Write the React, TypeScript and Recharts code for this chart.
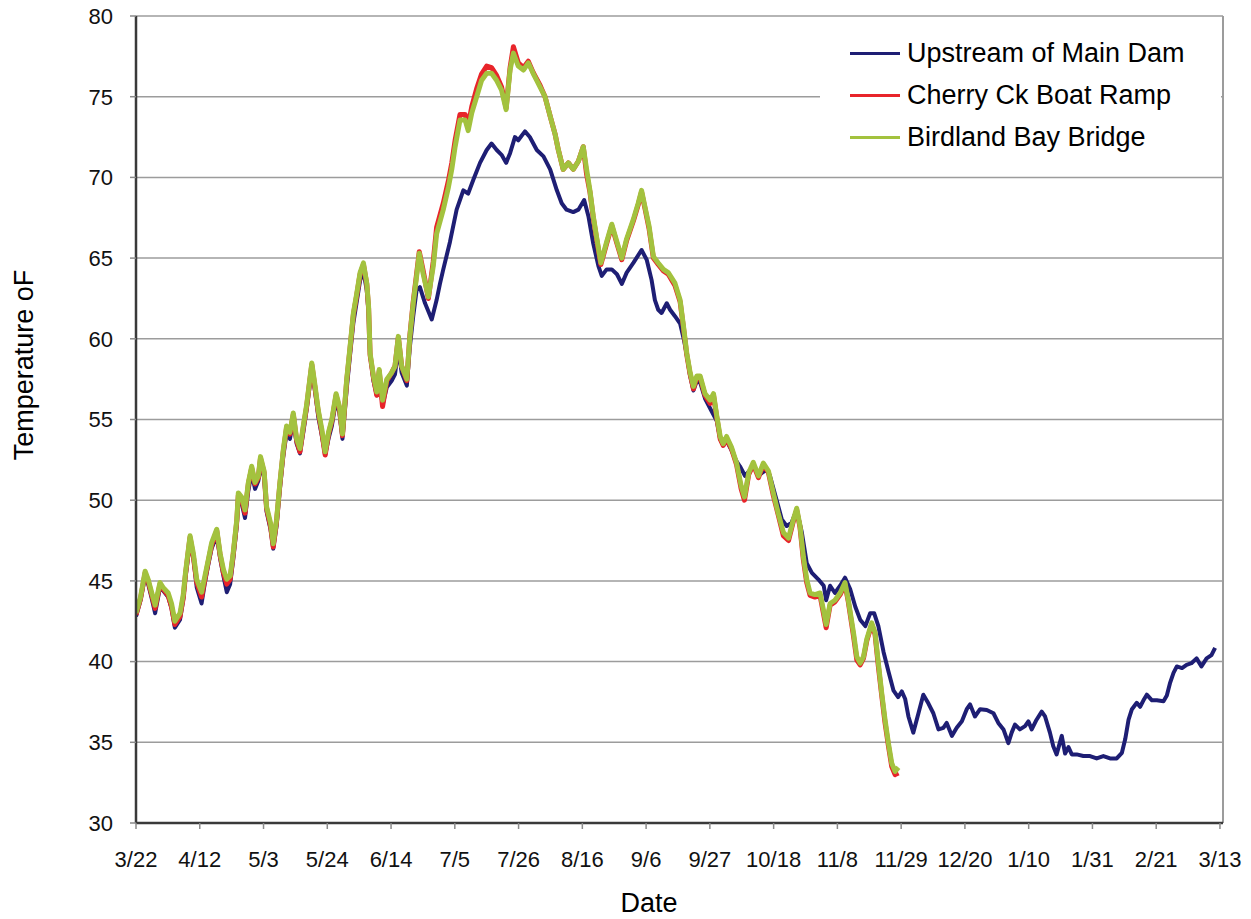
import React from 'react';
import { LineChart, Line, XAxis, YAxis, CartesianGrid, Legend, ReferenceLine, Label } from 'recharts';

const tickDays = [0, 21, 42, 63, 84, 105, 126, 147, 168, 189, 210, 231, 252, 273, 294, 315, 336, 357];
const tickLabels = ['3/22', '4/12', '5/3', '5/24', '6/14', '7/5', '7/26', '8/16', '9/6', '9/27', '10/18', '11/8', '11/29', '12/20', '1/10', '1/31', '2/21', '3/13'];
const yTicks = [30, 35, 40, 45, 50, 55, 60, 65, 70, 75, 80];

const seriesNames = ['Upstream of Main Dam', 'Cherry Ck Boat Ramp', 'Birdland Bay Bridge'];
const seriesColors = ['#1e1e74', '#e8242a', '#a3c23e'];

// [day since 3/22, temperature °F]
const upstream: [number, number][] = [
  [0, 42.8], [1.5, 43.8], [3, 45.3], [4, 44.8], [5.2, 43.9], [6.3, 43.0], [7.9, 44.6], [8.9, 44.4], [10.6, 44.0], [11.7, 43.3],
  [12.8, 42.1], [14.5, 42.6], [15.6, 43.9], [16.3, 45.2], [17.8, 47.4], [18.9, 46.4], [20, 44.6], [21.6, 43.6], [22.7, 44.9], [23.8, 46.0],
  [24.9, 47.0], [26.6, 47.8], [27.7, 46.4], [28.8, 45.3], [29.9, 44.3], [31, 44.8], [32, 46.3], [33.2, 48.4], [33.7, 50.1], [34.8, 49.8],
  [35.9, 48.9], [37, 50.6], [38.1, 51.7], [39.2, 50.7], [40.3, 51.2], [41, 52.2], [42.2, 51.4], [43, 49.3], [44.3, 48.2], [45.2, 47.0],
  [46.3, 48.4], [47.4, 50.7], [48.5, 52.7], [49.6, 54.2], [50.7, 53.8], [51.8, 55.0], [52.9, 53.5], [54, 52.9], [55.1, 54.2], [56.2, 55.6],
  [57.9, 58.1], [59, 56.7], [60, 55.2], [61.2, 54.0], [62.3, 52.8], [63.4, 53.8], [64.5, 54.6], [65.9, 56.2], [67, 55.4], [68, 53.8],
  [69.4, 56.9], [70.5, 59.0], [71.6, 61.0], [72.7, 62.3], [73.8, 63.6], [74.9, 64.2], [76, 63.0], [76.6, 61.6], [77.1, 59.0], [78.2, 57.4],
  [79.3, 56.5], [80.1, 57.6], [81.2, 55.9], [82.6, 57.0], [84.2, 57.4], [85.3, 57.8], [86.4, 59.4], [87.5, 57.9], [89.2, 57.1], [90.2, 59.5],
  [91.3, 61.4], [92.4, 63.0], [93.5, 63.2], [95.2, 62.2], [97.4, 61.2], [99, 62.4], [100.1, 63.4], [101.2, 64.3], [103.4, 66.0], [105.6, 68.0],
  [107.8, 69.2], [109.4, 69.0], [111.1, 69.85], [113.3, 70.9], [115.5, 71.7], [117.1, 72.1], [118.8, 71.7], [120.4, 71.4], [121.9, 70.9], [123.2, 71.5],
  [124.8, 72.5], [125.9, 72.3], [128.1, 72.85], [129.7, 72.5], [132, 71.7], [134.2, 71.3], [136.4, 70.5], [138.6, 69.2], [140.2, 68.4], [141.8, 68.0],
  [144, 67.85], [145.7, 68.0], [147.6, 68.6], [149, 67.6], [150.6, 65.9], [152.3, 64.5], [153.4, 63.9], [155, 64.3], [156.7, 64.3], [158.4, 64.0],
  [160, 63.4], [161.6, 64.1], [163.8, 64.7], [166.5, 65.5], [168.2, 64.9], [169.8, 63.65], [170.9, 62.4], [172, 61.8], [173.1, 61.6], [174.8, 62.2],
  [175.9, 61.8], [177.5, 61.4], [179.2, 60.95], [180.5, 59.9], [181.4, 59.0], [182.5, 57.7], [183.6, 56.8], [184.7, 57.4], [185.8, 57.3], [187.4, 56.3],
  [189.6, 55.5], [191.3, 54.9], [192.4, 53.8], [193.4, 53.4], [194.5, 53.7], [196.1, 53.1], [197.8, 52.4], [198.9, 52.1], [200.6, 51.5], [203.2, 52.1],
  [205.5, 51.6], [207.7, 51.9], [208.8, 51.5], [211, 50.0], [212.7, 48.8], [214.3, 48.4], [215.9, 48.6], [217.6, 49.4], [219.3, 48.0], [220.9, 46.1],
  [222.6, 45.5], [224.7, 45.1], [226.5, 44.7], [227.3, 43.8], [228.6, 44.7], [230.2, 44.25], [231.9, 44.7], [233.5, 45.2], [235.2, 44.5], [236.9, 43.4],
  [238.5, 42.6], [240.2, 42.2], [241.8, 43.0], [243.1, 43.0], [244.5, 42.2], [246.2, 40.6], [247.8, 39.4], [249.5, 38.2], [251, 37.8], [252.2, 38.15],
  [253.3, 37.7], [254.4, 36.6], [256, 35.6], [257.7, 36.8], [259.3, 37.95], [261, 37.4], [262.6, 36.8], [264.3, 35.8], [265.9, 35.9], [267, 36.2],
  [268.7, 35.4], [270.3, 35.9], [272, 36.3], [273.6, 37.05], [274.7, 37.35], [276.3, 36.6], [278, 37.05], [280.2, 37.0], [282.4, 36.8], [284, 36.2],
  [285.7, 35.8], [287.3, 34.95], [288.4, 35.6], [289.5, 36.1], [291.1, 35.8], [292.8, 36.0], [293.9, 36.3], [295, 35.8], [296.6, 36.4], [298.3, 36.9],
  [299.4, 36.6], [301, 35.6], [302.1, 34.75], [303.2, 34.25], [304.9, 35.4], [306, 34.3], [307.1, 34.7], [308.2, 34.25], [309.8, 34.25], [312, 34.15],
  [314.2, 34.15], [316.4, 34.0], [318.6, 34.15], [320.8, 34.0], [323, 34.0], [324.7, 34.35], [325.8, 35.2], [326.9, 36.4], [328, 37.05], [329.6, 37.45],
  [330.7, 37.2], [331.8, 37.6], [332.9, 37.95], [334.6, 37.6], [336.2, 37.6], [338.4, 37.55], [339.5, 37.9], [340.6, 38.7], [341.7, 39.3], [342.8, 39.7],
  [344.5, 39.6], [346, 39.8], [347.6, 39.9], [349.3, 40.2], [350.9, 39.7], [352.6, 40.2], [354.2, 40.4], [355.4, 40.85],
];

const cherry: [number, number][] = [
  [0, 42.9], [1.5, 43.9], [3, 45.5], [4, 45.0], [5.2, 44.1], [6.3, 43.3], [7.9, 44.8], [8.9, 44.5], [10.6, 44.1], [11.7, 43.4],
  [12.8, 42.3], [14.5, 42.8], [15.6, 44.0], [16.3, 45.4], [17.8, 47.7], [18.9, 46.5], [20, 44.9], [21.6, 44.0], [22.7, 45.1], [23.8, 46.2],
  [24.9, 47.2], [26.6, 48.1], [27.7, 46.6], [28.8, 45.5], [29.9, 44.8], [31, 45.1], [32, 46.6], [33.2, 48.7], [33.7, 50.3], [34.8, 50.1],
  [35.9, 49.2], [37, 51.0], [38.1, 52.0], [39.2, 51.0], [40.3, 51.4], [41, 52.6], [42.2, 51.7], [43, 49.5], [44.3, 48.4], [45.2, 47.1],
  [46.3, 48.7], [47.4, 51.0], [48.5, 53.0], [49.6, 54.5], [50.7, 54.1], [51.8, 55.3], [52.9, 53.7], [54, 53.0], [55.1, 54.5], [56.2, 55.8],
  [57.9, 58.4], [59, 56.9], [60, 55.5], [61.2, 54.2], [62.3, 52.8], [63.4, 54.1], [64.5, 54.9], [65.9, 56.5], [67, 55.7], [68, 54.0],
  [69.4, 57.4], [70.5, 59.4], [71.6, 61.5], [72.7, 62.7], [73.8, 64.0], [74.9, 64.6], [76, 63.4], [76.6, 61.9], [77.1, 59.0], [78.2, 57.6],
  [79.3, 56.5], [80.1, 58.0], [81.2, 55.8], [82.6, 57.4], [84.2, 57.9], [85.3, 58.3], [86.4, 60.1], [87.5, 58.3], [89.2, 57.4], [90.2, 60.2],
  [91.3, 62.3], [92.4, 64.0], [93.3, 65.4], [94.6, 64.2], [96.3, 62.5], [97.9, 64.8], [99, 66.9], [101.2, 68.4], [102.9, 69.8], [104, 70.9],
  [105.1, 72.3], [106.7, 73.9], [108.4, 73.9], [109.4, 73.2], [110.6, 74.4], [112.2, 75.5], [113.8, 76.4], [115.5, 76.9], [117.1, 76.8], [118.8, 76.3],
  [120.4, 75.6], [121.9, 74.3], [123.2, 76.8], [124.3, 78.1], [125.9, 77.1], [127.6, 76.8], [129.2, 77.2], [130.8, 76.5], [133.1, 75.7], [134.7, 75.0],
  [136.4, 73.8], [138, 72.7], [139.1, 71.7], [140.7, 70.5], [142.4, 70.9], [144, 70.5], [145.7, 71.0], [147.3, 71.9], [148.4, 70.2], [149.5, 69.1],
  [150.6, 67.5], [151.7, 66.2], [153.1, 64.6], [155, 65.9], [156.7, 67.0], [158.4, 65.9], [160, 64.9], [161.6, 66.1], [163.8, 67.3], [165.4, 68.3],
  [166.5, 69.1], [167.6, 68.1], [169, 66.8], [170.4, 65.0], [172, 64.6], [173.7, 64.2], [175.3, 64.0], [177.5, 63.3], [179.2, 62.3], [180.3, 60.7],
  [181.4, 59.0], [182.5, 57.8], [183.6, 56.9], [184.7, 57.6], [185.8, 57.6], [187.4, 56.5], [189.1, 56.0], [190.2, 56.5], [191.3, 55.1], [192.4, 53.8],
  [193.4, 53.4], [194.5, 53.8], [196.1, 53.2], [197.8, 52.2], [199.3, 50.7], [200.4, 50.0], [201.8, 51.6], [203.3, 52.2], [205, 51.4], [206.6, 52.2],
  [208.3, 51.7], [209.9, 50.3], [211.5, 49.1], [213.2, 47.8], [214.9, 47.5], [216.5, 48.7], [217.6, 49.4], [218.7, 48.3], [219.8, 46.3], [220.9, 44.9],
  [222, 44.1], [223.6, 44.0], [225.3, 44.1], [226.4, 43.0], [227.3, 42.1], [228.6, 43.5], [230.2, 43.7], [231.9, 44.15], [233.5, 44.8], [234.6, 43.7],
  [236.3, 41.6], [237.4, 40.1], [238.5, 39.8], [239.6, 40.2], [240.7, 41.3], [242.3, 42.3], [243.4, 41.7], [244.5, 39.7], [245.6, 37.9], [246.7, 36.2],
  [247.8, 34.8], [248.9, 33.5], [250, 33.0], [251.1, 33.1],
];

const birdland: [number, number][] = [
  [0, 43.0], [1.5, 44.0], [3, 45.6], [4, 45.1], [5.2, 44.25], [6.3, 43.5], [7.9, 44.9], [8.9, 44.6], [10.6, 44.25], [11.7, 43.6],
  [12.8, 42.5], [14.5, 43.0], [15.6, 44.2], [16.3, 45.5], [17.8, 47.8], [18.9, 46.7], [20, 45.1], [21.6, 44.3], [22.7, 45.3], [23.8, 46.3],
  [24.9, 47.35], [26.6, 48.2], [27.7, 46.7], [28.8, 45.7], [29.9, 45.1], [31, 45.3], [32, 46.7], [33.2, 48.8], [33.7, 50.45], [34.8, 50.2],
  [35.9, 49.4], [37, 51.1], [38.1, 52.1], [39.2, 51.1], [40.3, 51.5], [41, 52.7], [42.2, 51.8], [43, 49.6], [44.3, 48.6], [45.2, 47.3],
  [46.3, 48.8], [47.4, 51.1], [48.5, 53.1], [49.6, 54.6], [50.7, 54.2], [51.8, 55.4], [52.9, 53.8], [54, 53.2], [55.1, 54.6], [56.2, 55.9],
  [57.9, 58.5], [59, 57.05], [60, 55.6], [61.2, 54.4], [62.3, 53.0], [63.4, 54.2], [64.5, 55.0], [65.9, 56.6], [67, 55.8], [68, 54.1],
  [69.4, 57.5], [70.5, 59.5], [71.6, 61.6], [72.7, 62.8], [73.8, 64.1], [74.9, 64.7], [76, 63.45], [76.6, 62.0], [77.1, 59.1], [78.2, 57.7],
  [79.3, 56.7], [80.1, 58.1], [81.2, 56.2], [82.6, 57.5], [84.2, 57.9], [85.3, 58.3], [86.4, 60.15], [87.5, 58.3], [89.2, 57.5], [90.2, 60.15],
  [91.3, 62.2], [92.4, 63.85], [93.3, 65.3], [94.6, 64.0], [96.3, 62.6], [97.9, 64.5], [99, 66.5], [101.2, 68.0], [102.9, 69.4], [104, 70.5],
  [105.1, 71.9], [106.7, 73.55], [108.4, 73.55], [109.4, 72.9], [110.6, 74.0], [112.2, 75.0], [113.8, 76.0], [115.5, 76.45], [117.1, 76.45], [118.8, 76.0],
  [120.4, 75.4], [121.9, 74.2], [123.2, 76.65], [124.3, 77.7], [125.9, 76.9], [127.6, 76.65], [129.2, 77.1], [130.8, 76.45], [133.1, 75.6], [134.7, 75.0],
  [136.4, 73.8], [138, 72.7], [139.1, 71.7], [140.7, 70.5], [142.4, 70.9], [144, 70.5], [145.7, 71.0], [147.3, 71.9], [148.4, 70.5], [149.5, 69.2],
  [150.6, 67.6], [151.7, 66.3], [153.1, 64.7], [155, 66.0], [156.7, 67.1], [158.4, 66.0], [160, 65.0], [161.6, 66.2], [163.8, 67.4], [165.4, 68.4],
  [166.5, 69.2], [167.6, 68.2], [169, 66.95], [170.4, 65.1], [172, 64.7], [173.7, 64.3], [175.3, 64.1], [177.5, 63.45], [179.2, 62.4], [180.3, 60.8],
  [181.4, 59.1], [182.5, 57.9], [183.6, 57.05], [184.7, 57.7], [185.8, 57.7], [187.4, 56.6], [189.1, 56.2], [190.2, 56.6], [191.3, 55.2], [192.4, 53.95],
  [193.4, 53.5], [194.5, 53.95], [196.1, 53.3], [197.8, 52.3], [199.3, 50.9], [200.4, 50.2], [201.8, 51.7], [203.3, 52.35], [205, 51.5], [206.6, 52.3],
  [208.3, 51.8], [209.9, 50.45], [211.5, 49.2], [213.2, 48.0], [214.9, 47.65], [216.5, 48.8], [217.6, 49.5], [218.7, 48.4], [219.8, 46.5], [220.9, 45.1],
  [222, 44.25], [223.6, 44.15], [225.3, 44.25], [226.4, 43.2], [227.3, 42.3], [228.6, 43.6], [230.2, 43.8], [231.9, 44.25], [233.5, 44.9], [234.6, 43.8],
  [236.3, 41.8], [237.4, 40.3], [238.5, 39.9], [239.6, 40.3], [240.7, 41.4], [242.3, 42.4], [243.4, 41.8], [244.5, 39.9], [245.6, 38.05], [246.7, 36.4],
  [247.8, 34.95], [248.9, 33.7], [250, 33.2], [251.1, 33.45],
];

const toRows = (pairs: [number, number][]) => pairs.map(([day, temp]) => ({ day, temp }));
const seriesData = [toRows(upstream), toRows(cherry), toRows(birdland)];
const strokeWidths = [4, 5, 5];

const FONT = '"Liberation Sans", Arial, Helvetica, sans-serif';

const LegendBox = () => (
  <div style={{ position: 'relative', width: 401, height: 150, background: '#fff', fontFamily: FONT }}>
    {seriesNames.map((name, i) => (
      <div key={name} style={{ position: 'absolute', left: 0, top: 12 + i * 42, height: 42, width: 401 }}>
        <div style={{ position: 'absolute', left: 30, top: 20, width: 50, height: 2.5, background: seriesColors[i] }} />
        <div style={{ position: 'absolute', left: 87, top: 0, height: 42, lineHeight: '42px', fontSize: 27, color: '#000', whiteSpace: 'nowrap' }}>
          {name}
        </div>
      </div>
    ))}
  </div>
);

export default function App() {
  return (
    <div style={{ width: 1251, height: 919, margin: '-8px 0 0 -8px', fontFamily: FONT }}>
      <LineChart width={1251} height={919} margin={{ top: 16, right: 28, left: 76, bottom: 36 }} style={{ fontFamily: FONT }}>
        <CartesianGrid horizontal vertical={false} stroke="#9c9c9c" strokeWidth={1.5} />
        <XAxis
          type="number"
          dataKey="day"
          domain={[0, 358]}
          ticks={tickDays}
          tickFormatter={(v: number) => tickLabels[tickDays.indexOf(v)] ?? ''}
          allowDataOverflow
          height={60}
          tickSize={6}
          tickMargin={22}
          tick={{ fontSize: 22, fill: '#111', fontFamily: FONT }}
          tickLine={{ stroke: '#8a8a8a', strokeWidth: 1.5 }}
          axisLine={{ stroke: '#3a3a3a', strokeWidth: 2.5 }}
          interval={0}
        >
          <Label
            content={() => (
              <text x={649} y={912} textAnchor="middle" fontSize={27} fill="#000" fontFamily={FONT}>
                Date
              </text>
            )}
          />
        </XAxis>
        <YAxis
          type="number"
          domain={[30, 80]}
          ticks={yTicks}
          width={60}
          tickSize={6}
          tickMargin={17}
          tick={{ fontSize: 22, fill: '#111', fontFamily: FONT }}
          tickLine={{ stroke: '#8a8a8a', strokeWidth: 1.5 }}
          axisLine={{ stroke: '#3a3a3a', strokeWidth: 2.5 }}
          allowDataOverflow
          interval={0}
        >
          <Label
            content={() => (
              <text x={33} y={365} transform="rotate(-90 33 365)" textAnchor="middle" fontSize={27} fill="#000" fontFamily={FONT}>
                Temperature oF
              </text>
            )}
          />
        </YAxis>
        <ReferenceLine x={358} stroke="#9c9c9c" strokeWidth={2} />
        {seriesNames.map((name, i) => (
          <Line
            key={name}
            data={seriesData[i]}
            dataKey="temp"
            name={name}
            type="linear"
            stroke={seriesColors[i]}
            strokeWidth={strokeWidths[i]}
            strokeLinejoin="round"
            dot={false}
            activeDot={false}
            isAnimationActive={false}
          />
        ))}
        <Legend
          layout="horizontal"
          align="center"
          verticalAlign="middle"
          content={() => <LegendBox />}
          wrapperStyle={{ position: 'absolute', left: 820, top: 20, width: 401, height: 150 }}
        />
      </LineChart>
    </div>
  );
}
